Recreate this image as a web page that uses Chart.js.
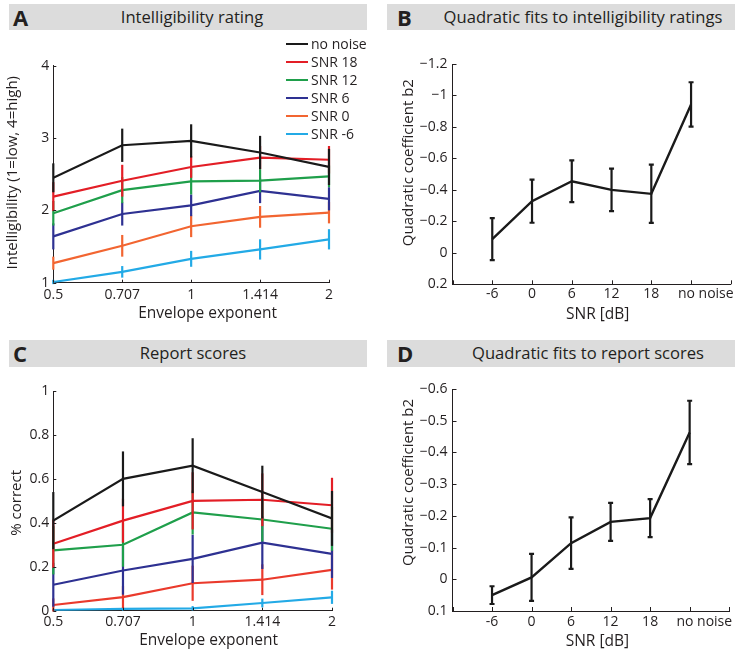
<!DOCTYPE html>
<html><head><meta charset="utf-8">
<script src="https://cdn.jsdelivr.net/npm/chart.js@4.4.0/dist/chart.umd.min.js"></script>
<style>
html,body{margin:0;padding:0;background:#fff;}
body{width:735px;height:653px;position:relative;overflow:hidden;font-family:"Open Sans",sans-serif;color:#231f20;}
.hdr{position:absolute;background:#dcdcdc;}
.letter{position:absolute;font-weight:bold;font-size:22px;line-height:26px;}
.ttl{position:absolute;font-size:16.6px;line-height:26px;transform:translateX(-50%);white-space:nowrap;}
canvas{position:absolute;}
#legendA{position:absolute;left:286px;top:35px;font-size:14px;}
#legendA .row{height:18px;line-height:18px;white-space:nowrap;display:flex;align-items:center;}
#legendA .sw{display:inline-block;width:22px;height:2px;margin-right:3px;}
</style></head>
<body>
<div class="hdr" style="left:9px;top:4px;width:358px;height:26px;"></div>
<div class="letter" style="left:13px;top:4px;">A</div>
<div class="ttl" style="left:192px;top:4px;">Intelligibility rating</div>
<div class="hdr" style="left:387px;top:4px;width:348px;height:26px;"></div>
<div class="letter" style="left:397px;top:4px;">B</div>
<div class="ttl" style="left:583px;top:4px;">Quadratic fits to intelligibility ratings</div>
<div class="hdr" style="left:9px;top:340px;width:358px;height:27px;"></div>
<div class="letter" style="left:13px;top:340px;">C</div>
<div class="ttl" style="left:193px;top:340px;">Report scores</div>
<div class="hdr" style="left:387px;top:340px;width:348px;height:27px;"></div>
<div class="letter" style="left:397px;top:340px;">D</div>
<div class="ttl" style="left:588px;top:340px;">Quadratic fits to report scores</div>

<canvas id="cA" width="365" height="305" style="left:0px;top:30px;width:365px;height:305px;"></canvas>
<canvas id="cB" width="365" height="305" style="left:370px;top:30px;width:365px;height:305px;"></canvas>
<canvas id="cC" width="365" height="285" style="left:0px;top:368px;width:365px;height:285px;"></canvas>
<canvas id="cD" width="365" height="285" style="left:370px;top:368px;width:365px;height:285px;"></canvas>
<div id="legendA"></div>

<script>
// ---------- data ----------
const envelopeExponents = ['0.5', '0.707', '1', '1.414', '2'];
const snrLabels = ['-6', '0', '6', '12', '18', 'no noise'];
const seriesNames = ['no noise', 'SNR 18', 'SNR 12', 'SNR 6', 'SNR 0', 'SNR -6'];

// Panel A: intelligibility rating (mean, error half-length)
const ratingNoNoise = [2.45, 2.90, 2.96, 2.80, 2.60];
const ratingSnr18   = [2.19, 2.41, 2.60, 2.73, 2.70];
const ratingSnr12   = [1.96, 2.28, 2.40, 2.41, 2.47];
const ratingSnr6    = [1.64, 1.95, 2.07, 2.27, 2.16];
const ratingSnr0    = [1.27, 1.51, 1.78, 1.91, 1.97];
const ratingSnrM6   = [1.01, 1.15, 1.33, 1.46, 1.60];
const ratingErrNoNoise = [0.20, 0.23, 0.23, 0.23, 0.25];
const ratingErrSnr18   = [0.20, 0.22, 0.15, 0.16, 0.19];
const ratingErrSnr12   = [0.17, 0.18, 0.18, 0.16, 0.15];
const ratingErrSnr6    = [0.18, 0.16, 0.15, 0.17, 0.16];
const ratingErrSnr0    = [0.09, 0.15, 0.15, 0.15, 0.15];
const ratingErrSnrM6   = [0.03, 0.08, 0.11, 0.14, 0.14];

// Panel B: quadratic coefficient b2 of rating fits
const b2Rating    = [-0.087, -0.328, -0.455, -0.400, -0.375, -0.943];
const b2RatingErr = [0.134, 0.137, 0.133, 0.135, 0.185, 0.141];

// Panel C: report scores (% correct)
const reportNoNoise = [0.410, 0.600, 0.660, 0.540, 0.420];
const reportSnr18   = [0.305, 0.410, 0.500, 0.505, 0.480];
const reportSnr12   = [0.275, 0.300, 0.447, 0.415, 0.373];
const reportSnr6    = [0.118, 0.183, 0.236, 0.310, 0.259];
const reportSnr0    = [0.026, 0.062, 0.125, 0.141, 0.186];
const reportSnrM6   = [0.003, 0.008, 0.011, 0.035, 0.061];
const reportErrNoNoise = [0.13, 0.125, 0.125, 0.12, 0.125];
const reportErrSnr18   = [0.11, 0.10, 0.13, 0.12, 0.125];
const reportErrSnr12   = [0.11, 0.10, 0.10, 0.10, 0.10];
const reportErrSnr6    = [0.10, 0.11, 0.11, 0.12, 0.11];
const reportErrSnr0    = [0.03, 0.05, 0.08, 0.07, 0.09];
const reportErrSnrM6   = [0.005, 0.008, 0.01, 0.02, 0.03];

// Panel D: quadratic coefficient b2 of report-score fits
const b2Report    = [0.050, -0.006, -0.114, -0.181, -0.193, -0.463];
const b2ReportErr = [0.028, 0.074, 0.081, 0.060, 0.060, 0.100];

// ---------- styles ----------
const colorsA = ['#1a1a1a', '#e31e26', '#1f9f4b', '#2e3192', '#f26531', '#23aae6'];
const colorsC = ['#1a1a1a', '#e31e26', '#1f9f4b', '#2e3192', '#ea3a2c', '#23aae6'];
const ink = '#231f20';
const FONT = '"Open Sans", sans-serif';
const lastLabelShift = 0.37;   // the "no noise" tick label sits a little right of its tick
Chart.defaults.font.family = FONT;
Chart.defaults.color = ink;

function fmt(v) {
  const r = Math.round(v * 1000) / 1000;
  if (r === 0) return '0';
  return r < 0 ? '\u2212' + String(-r) : String(r);
}

const errorBarPlugin = {
  id: 'errorBars',
  afterDatasetDraw(chart, args, opts) {
    const ds = chart.data.datasets[args.index];
    if (!ds.errors) return;
    const xs = chart.scales.x, ys = chart.scales.y, ctx = chart.ctx;
    const cap = opts.cap || 0;
    ctx.save();
    ctx.strokeStyle = ds.borderColor;
    ctx.lineWidth = opts.width || 2;
    ds.data.forEach((p, i) => {
      const e = ds.errors[i];
      const x = xs.getPixelForValue(p.x);
      const y1 = ys.getPixelForValue(p.y - e);
      const y2 = ys.getPixelForValue(p.y + e);
      ctx.beginPath(); ctx.moveTo(x, y1); ctx.lineTo(x, y2); ctx.stroke();
      if (cap) {
        ctx.beginPath();
        ctx.moveTo(x - cap, y1); ctx.lineTo(x + cap, y1);
        ctx.moveTo(x - cap, y2); ctx.lineTo(x + cap, y2);
        ctx.stroke();
      }
    });
    ctx.restore();
  }
};

const inwardTicks = {
  id: 'inwardTicks',
  afterDraw(chart, args, opts) {
    const ctx = chart.ctx, a = chart.chartArea, xs = chart.scales.x, ys = chart.scales.y;
    const len = opts.length || 3;
    const xVals = opts.xValues || xs.ticks.map(t => t.value);
    ctx.save();
    ctx.strokeStyle = ink; ctx.lineWidth = 1;
    xVals.forEach(v => {
      const px = Math.round(xs.getPixelForValue(v)) + 0.5;
      ctx.beginPath(); ctx.moveTo(px, a.bottom); ctx.lineTo(px, a.bottom - len); ctx.stroke();
    });
    ys.ticks.forEach(t => {
      const py = Math.round(ys.getPixelForValue(t.value)) + 0.5;
      ctx.beginPath(); ctx.moveTo(a.left, py); ctx.lineTo(a.left + len, py); ctx.stroke();
    });
    ctx.restore();
  }
};

// draws the axis titles (text taken from the scale options) at positions offset from the chart area
const axisTitles = {
  id: 'axisTitles',
  afterDraw(chart, args, opts) {
    const ctx = chart.ctx, a = chart.chartArea;
    ctx.save();
    ctx.fillStyle = ink;
    ctx.textAlign = 'center';
    ctx.textBaseline = 'middle';
    const xt = chart.options.scales.x.title.text;
    ctx.font = opts.xSize + 'px ' + FONT;
    ctx.fillText(xt, (a.left + a.right) / 2 + opts.xdx, a.bottom + opts.xdy);
    const yt = chart.options.scales.y.title.text;
    ctx.font = opts.ySize + 'px ' + FONT;
    ctx.translate(a.left + opts.ydx, (a.top + a.bottom) / 2 + opts.ydy);
    ctx.rotate(-Math.PI / 2);
    ctx.fillText(yt, 0, 0);
    ctx.restore();
  }
};

function seriesSet(valuesList, errorsList, colors) {
  return valuesList.map((vals, k) => ({
    label: seriesNames[k],
    data: vals.map((v, i) => ({ x: i, y: v })),
    errors: errorsList[k],
    borderColor: colors[k],
    backgroundColor: colors[k],
    borderWidth: 2.2,
    pointRadius: 0,
    tension: 0,
    fill: false
  }));
}

function baseOptions(p) {
  return {
    responsive: false, animation: false, devicePixelRatio: 1,
    layout: { padding: { top: p.top, right: p.right, left: 0, bottom: 0 } },
    plugins: {
      legend: { display: false }, tooltip: { enabled: false },
      errorBars: { cap: p.cap, width: 2.2 },
      inwardTicks: { length: p.tickLen, xValues: p.tickMarks },
      axisTitles: { xSize: 15.5, ySize: 15, xdx: p.xdx, xdy: p.xdy, ydx: p.ydx, ydy: p.ydy }
    },
    scales: {
      x: {
        type: 'linear', min: p.xmin, max: p.xmax,
        afterFit: s => { s.height = p.xh; },
        afterBuildTicks: p.tickPositions ? (s => { s.ticks = p.tickPositions.map(v => ({ value: v })); }) : undefined,
        grid: { display: false, drawTicks: false },
        border: { display: true, color: ink, width: 1 },
        ticks: {
          stepSize: 1, autoSkip: false, maxRotation: 0, padding: p.xpad,
          font: { size: 14 }, color: ink,
          callback: v => p.xlabels(v)
        },
        title: { display: false, text: p.xtitle }
      },
      y: {
        type: 'linear', min: p.ymin, max: p.ymax, reverse: !!p.reverse,
        afterFit: s => { s.width = p.yw; },
        grid: { display: false, drawTicks: false },
        border: { display: true, color: ink, width: 1 },
        ticks: { stepSize: p.ystep, autoSkip: false, padding: p.ypad, font: { size: 14 }, color: ink, callback: v => fmt(v) },
        title: { display: false, text: p.ytitle }
      }
    }
  };
}

const plugins = [errorBarPlugin, inwardTicks, axisTitles];

// SNR axis: labels at categories 1..6, last label nudged right; tick marks at 0..7
const snrTickPositions = snrLabels.map((s, i) => i + 1 + (i === snrLabels.length - 1 ? lastLabelShift : 0));
const snrTickMarks = Array.from({ length: snrLabels.length + 2 }, (_, i) => i);
const snrLabelFor = v => snrLabels[Math.round(v) - 1] ?? '';

// ---------- Panel A ----------
const chartA = new Chart(document.getElementById('cA'), {
  type: 'line',
  data: { datasets: seriesSet(
    [ratingNoNoise, ratingSnr18, ratingSnr12, ratingSnr6, ratingSnr0, ratingSnrM6],
    [ratingErrNoNoise, ratingErrSnr18, ratingErrSnr12, ratingErrSnr6, ratingErrSnr0, ratingErrSnrM6],
    colorsA) },
  options: baseOptions({
    top: 35.7, right: 36, xh: 52.3, yw: 53.3, xmin: 0, xmax: 4,
    xlabels: v => envelopeExponents[v] ?? '', xpad: 3.5, xtitle: 'Envelope exponent',
    ymin: 1, ymax: 4, ystep: 1, ypad: 4, ytitle: 'Intelligibility (1=low, 4=high)',
    xdx: 16.5, xdy: 30.5, ydx: -40.5, ydy: -1.5,
    cap: 0, tickLen: 3
  }),
  plugins
});

// ---------- Panel B ----------
new Chart(document.getElementById('cB'), {
  type: 'line',
  data: { datasets: [{
    label: 'b2', data: b2Rating.map((v, i) => ({ x: i + 1, y: v })), errors: b2RatingErr,
    borderColor: '#1a1a1a', borderWidth: 2.4, pointRadius: 0, tension: 0, fill: false
  }] },
  options: baseOptions({
    top: 34, right: 4, xh: 50.7, yw: 82.5, xmin: 0, xmax: 7,
    tickPositions: snrTickPositions, tickMarks: snrTickMarks,
    xlabels: snrLabelFor, xpad: 1, xtitle: 'SNR [dB]',
    ymin: -1.2, ymax: 0.2, ystep: 0.2, reverse: true, ypad: 5, ytitle: 'Quadratic coefficient b2',
    xdx: 6, xdy: 30, ydx: -44, ydy: -11.5,
    cap: 2.5, tickLen: 4
  }),
  plugins
});

// ---------- Panel C ----------
new Chart(document.getElementById('cC'), {
  type: 'line',
  data: { datasets: seriesSet(
    [reportNoNoise, reportSnr18, reportSnr12, reportSnr6, reportSnr0, reportSnrM6],
    [reportErrNoNoise, reportErrSnr18, reportErrSnr12, reportErrSnr6, reportErrSnr0, reportErrSnrM6],
    colorsC) },
  options: baseOptions({
    top: 23, right: 33, xh: 42.3, yw: 53.3, xmin: 0, xmax: 4,
    xlabels: v => envelopeExponents[v] ?? '', xpad: 3, xtitle: 'Envelope exponent',
    ymin: 0, ymax: 1, ystep: 0.2, ypad: 4, ytitle: '% correct',
    xdx: 16, xdy: 29.5, ydx: -36.5, ydy: 2,
    cap: 0, tickLen: 3
  }),
  plugins
});

// ---------- Panel D ----------
new Chart(document.getElementById('cD'), {
  type: 'line',
  data: { datasets: [{
    label: 'b2', data: b2Report.map((v, i) => ({ x: i + 1, y: v })), errors: b2ReportErr,
    borderColor: '#1a1a1a', borderWidth: 2.4, pointRadius: 0, tension: 0, fill: false
  }] },
  options: baseOptions({
    top: 21, right: 4, xh: 42, yw: 82.5, xmin: 0, xmax: 7,
    tickPositions: snrTickPositions, tickMarks: snrTickMarks,
    xlabels: snrLabelFor, xpad: 2.5, xtitle: 'SNR [dB]',
    ymin: -0.6, ymax: 0.1, ystep: 0.1, reverse: true, ypad: 5, ytitle: 'Quadratic coefficient b2',
    xdx: 6.5, xdy: 30.5, ydx: -44, ydy: -17.5,
    cap: 2.5, tickLen: 4
  }),
  plugins
});

// ---------- legend for panel A (built from chart datasets) ----------
const legendEl = document.getElementById('legendA');
chartA.data.datasets.forEach(ds => {
  const row = document.createElement('div');
  row.className = 'row';
  const sw = document.createElement('span');
  sw.className = 'sw';
  sw.style.background = ds.borderColor;
  const tx = document.createElement('span');
  tx.textContent = ds.label;
  row.appendChild(sw); row.appendChild(tx);
  legendEl.appendChild(row);
});
</script>
</body></html>
